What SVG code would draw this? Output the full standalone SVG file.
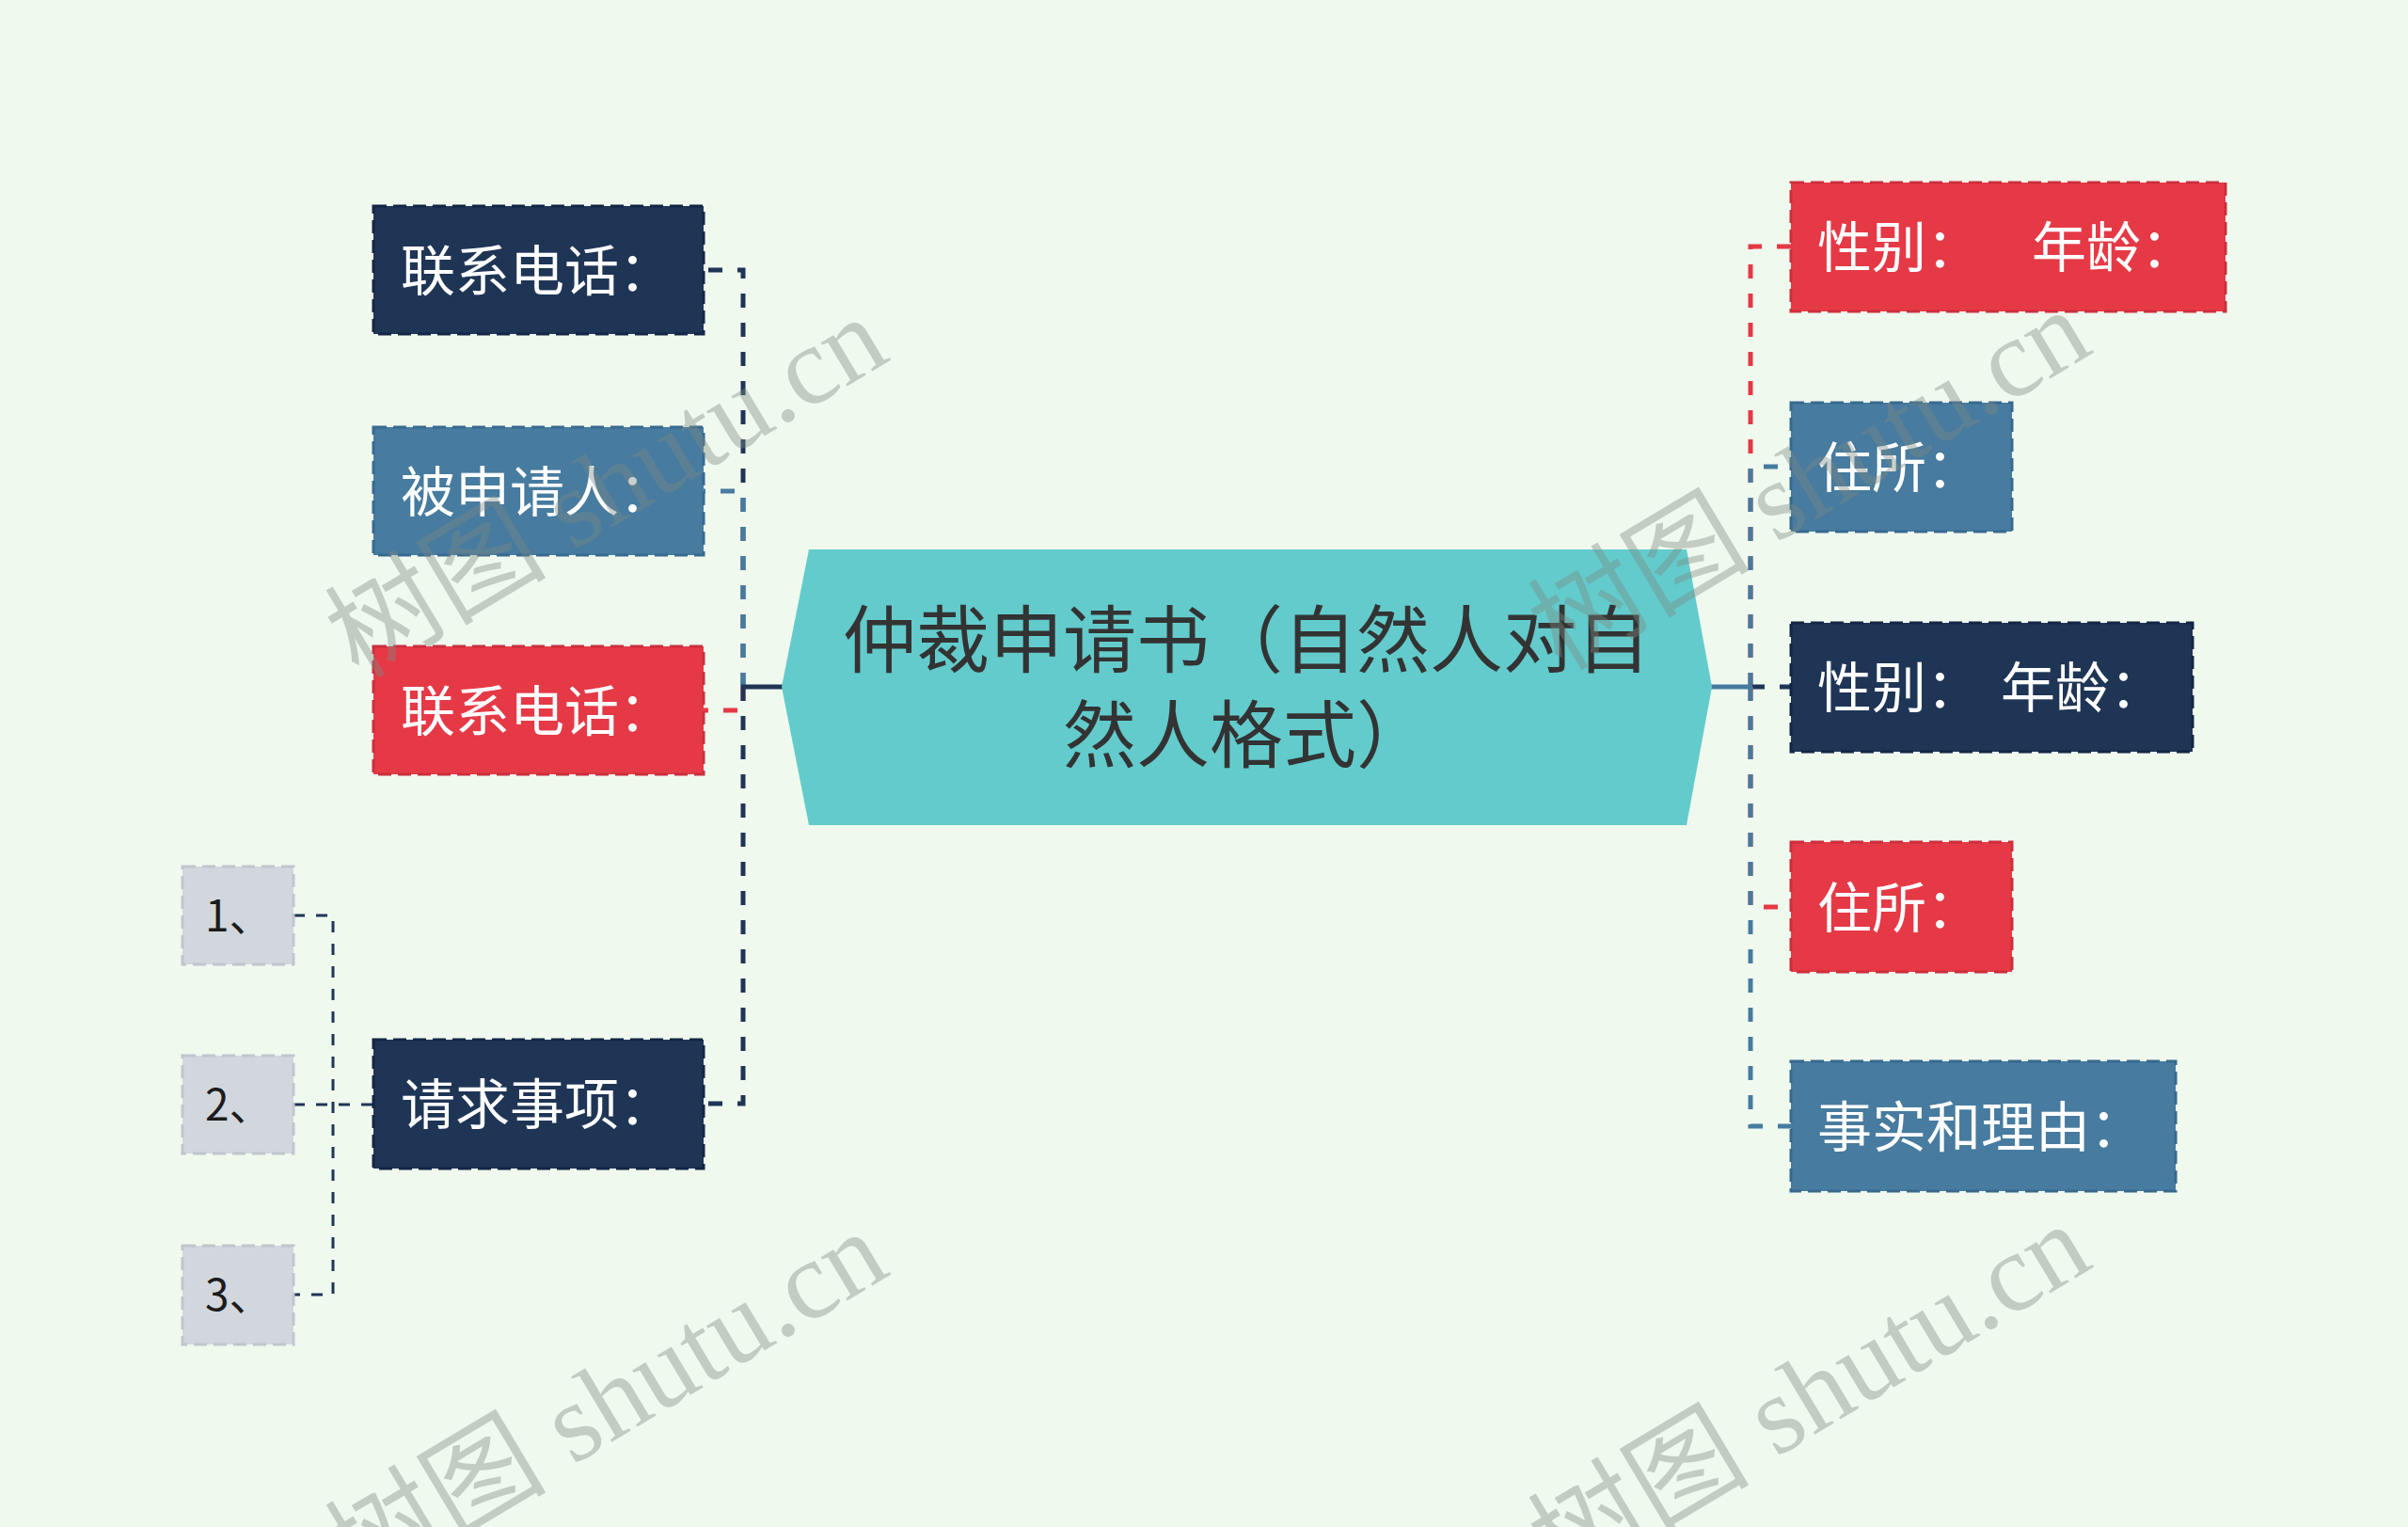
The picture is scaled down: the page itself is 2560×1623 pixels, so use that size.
<svg xmlns="http://www.w3.org/2000/svg" width="2560" height="1623" viewBox="0 0 2560 1623">
<style>
.bg{fill:#eff9ee}
.box{stroke-width:3;stroke-dasharray:14 7}
.dark{fill:#1f3556;stroke:#132645}
.blue{fill:#477b9f;stroke:#386a8e}
.red{fill:#e63946;stroke:#cc2f3c}
.gray{fill:#d2d7dd;stroke:#c0c6cd}
.t{font-family:"Noto Sans CJK SC","Noto Sans",sans-serif;font-size:58px;fill:#ffffff}
.tg{font-family:"Noto Sans CJK SC","Noto Sans",sans-serif;font-size:46px;fill:#1c1c1c}
.tc{font-family:"Noto Sans CJK SC","Noto Sans",sans-serif;font-size:78px;fill:#333333;text-anchor:middle}
.c{fill:none;stroke-width:5;stroke-dasharray:15 16}
.cs{fill:none;stroke-width:5}
.thin{fill:none;stroke:#1f3556;stroke-width:3;stroke-dasharray:12 12}
.cd{stroke:#1f3556}
.cb{stroke:#477b9f}
.cr{stroke:#e63946}
.wm{font-family:"Liberation Serif","Noto Sans CJK SC",serif;font-size:118px;fill:#7d8a82;fill-opacity:0.4;text-anchor:middle}
</style>
<rect class="bg" x="0" y="0" width="2560" height="1623"/>
<g id="connectors">
  <path class="c cd" d="M790,730 V287 H748"/>
  <path class="c cb" d="M790,730 V522 H748"/>
  <path class="c cr" d="M790,730 V755 H748"/>
  <path class="c cd" d="M790,730 V1173 H748"/>
  <path class="cs cd" d="M788,730 H833"/>
  <path class="c cr" d="M1861,730 V262 H1904"/>
  <path class="c cb" d="M1861,730 V496 H1904"/>
  <path class="c cd" d="M1861,730 H1904"/>
  <path class="c cr" d="M1861,730 V964 H1904"/>
  <path class="c cb" d="M1861,730 V1197 H1904"/>
  <path class="cs cb" d="M1818,730 H1863"/>
  <path class="thin" d="M312,973 H354 V1376 H312"/>
  <path class="thin" d="M312,1174 H397"/>
</g>
<g id="root">
  <polygon points="860,584 1793,584 1820,730 1793,877 860,877 831,730" fill="#63cbcc"/>
  <text class="tc" x="1325" y="709">仲裁申请书（自然人对自</text>
  <text class="tc" x="1325" y="810">然人格式）</text>
</g>
<g id="n-left-1">
  <rect class="box dark" x="397" y="219" width="351" height="136"/>
  <text class="t" x="426" y="309">联系电话：</text>
</g>
<g id="n-left-2">
  <rect class="box blue" x="397" y="454" width="351" height="136"/>
  <text class="t" x="426" y="544">被申请人：</text>
</g>
<g id="n-left-3">
  <rect class="box red" x="397" y="687" width="351" height="136"/>
  <text class="t" x="426" y="777">联系电话：</text>
</g>
<g id="n-left-4">
  <rect class="box dark" x="397" y="1105" width="351" height="137"/>
  <text class="t" x="426" y="1195">请求事项：</text>
</g>
<g id="n-item-1">
  <rect class="box gray" x="194" y="921" width="118" height="104"/>
  <text class="tg" x="218" y="990">1、</text>
</g>
<g id="n-item-2">
  <rect class="box gray" x="194" y="1122" width="118" height="104"/>
  <text class="tg" x="218" y="1191">2、</text>
</g>
<g id="n-item-3">
  <rect class="box gray" x="194" y="1324" width="118" height="105"/>
  <text class="tg" x="218" y="1393">3、</text>
</g>
<g id="n-right-1">
  <rect class="box red" x="1904" y="194" width="462" height="137"/>
  <text class="t" x="1932" y="284">性别：<tspan x="2160">年龄：</tspan></text>
</g>
<g id="n-right-2">
  <rect class="box blue" x="1904" y="428" width="235" height="137"/>
  <text class="t" x="1932" y="518">住所：</text>
</g>
<g id="n-right-3">
  <rect class="box dark" x="1904" y="662" width="427" height="137"/>
  <text class="t" x="1932" y="752">性别：<tspan x="2127">年龄：</tspan></text>
</g>
<g id="n-right-4">
  <rect class="box red" x="1904" y="895" width="235" height="138"/>
  <text class="t" x="1932" y="986">住所：</text>
</g>
<g id="n-right-5">
  <rect class="box blue" x="1904" y="1128" width="409" height="138"/>
  <text class="t" x="1932" y="1219">事实和理由：</text>
</g>
<g id="watermarks">
  <text class="wm" transform="rotate(-31 665 552)" x="665" y="552">树图 shutu.cn</text>
  <text class="wm" transform="rotate(-31 1944 544)" x="1944" y="544">树图 shutu.cn</text>
  <text class="wm" transform="rotate(-31 665 1524)" x="665" y="1524">树图 shutu.cn</text>
  <text class="wm" transform="rotate(-31 1944 1516)" x="1944" y="1516">树图 shutu.cn</text>
</g>
</svg>
